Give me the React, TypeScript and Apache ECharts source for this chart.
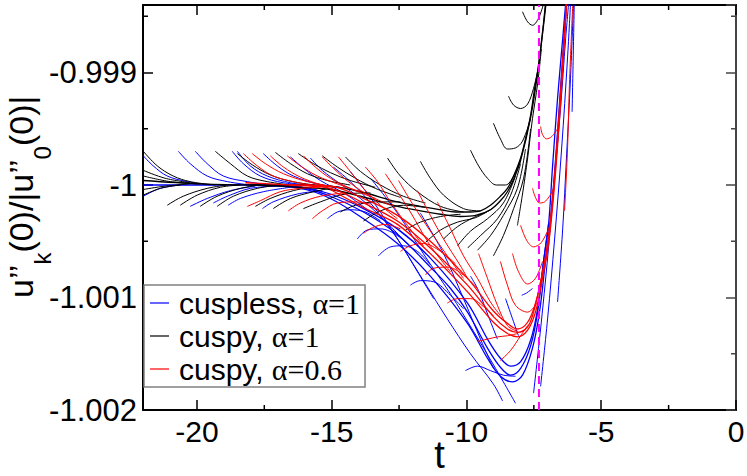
import React, { useEffect, useRef } from 'react';
import * as echarts from 'echarts';

// ---------- axes / annotations ----------
const X_MIN = -22;
const X_MAX = 0;
const Y_MIN = -1.002;
const Y_MAX = -0.9984;
const Y_INTERVAL = 0.001;
const xMinorTicks = [-17.5, -12.5, -7.5, -2.5];
const yMinorTicks = [-1.0015, -1.0005, -0.9995, -0.9985];
const legendNames = ['cuspless, α=1', 'cuspy, α=1', 'cuspy, α=0.6'];
const tStar = -7.31;
const dashedLine = [[tStar, Y_MIN], [tStar, Y_MAX]];

// ---------- cuspless, alpha = 1 (blue) ----------
const blueMain1 = [[-21.99,-1.0],[-19.88,-1.0],[-18.02,-1.0],[-16.16,-1.00002],[-15.05,-1.0001],[-13.82,-1.00024],[-12.56,-1.00044],[-11.34,-1.00073],[-10.59,-1.00092],[-9.96,-1.00113],[-9.22,-1.00145],[-8.74,-1.00162],[-8.36,-1.00169],[-7.99,-1.00163],[-7.62,-1.00143],[-7.36,-1.00113],[-7.14,-1.00068],[-6.95,-1.00034],[-6.81,-0.99985],[-6.62,-0.99923],[-6.43,-0.9987],[-6.32,-0.99839]];
const blueMain2 = [[-18.02,-1.0],[-16.16,-1.00003],[-15.05,-1.00012],[-13.82,-1.0003],[-12.56,-1.00052],[-11.34,-1.00081],[-9.96,-1.00123],[-9.22,-1.00154],[-8.74,-1.0017],[-8.29,-1.00175],[-7.92,-1.00169],[-7.55,-1.00145],[-7.29,-1.00113],[-7.07,-1.00068],[-6.88,-1.0003],[-6.69,-0.99976],[-6.51,-0.99914],[-6.29,-0.99839]];
const blueMain3 = [[-18.02,-1.0],[-16.16,-1.00002],[-15.05,-1.00008],[-13.82,-1.00021],[-12.56,-1.00039],[-11.34,-1.00065],[-9.96,-1.00105],[-9.22,-1.00137],[-8.74,-1.00154],[-8.36,-1.00161],[-7.99,-1.00157],[-7.62,-1.00138],[-7.36,-1.0011],[-7.14,-1.00068],[-6.95,-1.00034]];
const blueC6 = [[-21.99,-0.99974],[-21.62,-0.99983],[-21.1,-0.99992],[-20.36,-0.99997],[-19.5,-1.0]];
const blueC1 = [[-20.69,-0.9997],[-20.25,-0.99981],[-19.62,-0.99992],[-18.87,-0.99997],[-18.02,-1.0]];
const blueC2 = [[-20.06,-0.9997],[-19.62,-0.99981],[-19.02,-0.99992],[-18.13,-0.99997],[-17.28,-1.0]];
const blueC3 = [[-18.69,-0.9997],[-18.28,-0.99981],[-17.65,-0.99992],[-16.79,-0.99998],[-15.79,-1.0]];
const blueC4 = [[-18.5,-0.9997],[-18.02,-0.99983],[-17.39,-0.99992],[-16.53,-0.99998],[-15.61,-1.00001]];
const blueC5 = [[-17.54,-0.99972],[-17.02,-0.99983],[-16.42,-0.99992],[-15.53,-0.99999],[-14.68,-1.00002]];
const blueC5b = [[-16.53,-0.99975],[-16.05,-0.99985],[-15.42,-0.99996],[-14.49,-1.00008],[-13.56,-1.00024]];
const blueC5c = [[-15.79,-0.99976],[-15.35,-0.99987],[-14.68,-0.99999],[-13.93,-1.00012],[-13.01,-1.00032],[-12.26,-1.00051]];
const blueD1 = [[-14.94,-0.99984],[-14.31,-0.99997],[-13.56,-1.00016],[-12.56,-1.00048],[-11.82,-1.00077],[-11.22,-1.00101]];
const blueD2 = [[-14.31,-0.99988],[-13.45,-1.00015],[-12.45,-1.00052],[-11.52,-1.00088],[-10.71,-1.00119],[-9.85,-1.0015],[-9.0,-1.00177],[-8.66,-1.00192]];
const blueD3 = [[-13.56,-0.99994],[-12.56,-1.00025],[-11.6,-1.00061],[-10.59,-1.00097],[-9.74,-1.0013],[-8.92,-1.00163],[-8.18,-1.00194]];
const blueD4 = [[-11.71,-1.00025],[-10.85,-1.00061],[-10.11,-1.00101],[-9.48,-1.00137],[-9.0,-1.00163]];
const blueD5 = [[-8.55,-1.00101],[-8.29,-1.00119],[-8.07,-1.00134]];
const blueD6 = [[-9.85,-1.00081],[-9.55,-1.00094],[-9.18,-1.00117],[-8.85,-1.00137]];
const blueE1 = [[-21.99,-1.0001],[-21.36,-1.00003],[-20.62,-1.0]];
const blueE2 = [[-20.25,-1.00019],[-19.62,-1.00012],[-18.76,-1.00005],[-17.83,-1.00001]];
const blueE3 = [[-19.39,-1.00016],[-18.87,-1.0001],[-18.02,-1.00003],[-17.09,-1.00001]];
const blueE4 = [[-18.84,-1.00018],[-18.39,-1.00012],[-17.54,-1.00006],[-16.53,-1.00002]];
const blueE5 = [[-17.57,-1.00021],[-17.17,-1.00015],[-16.27,-1.00008],[-15.35,-1.00005]];
const blueE6 = [[-15.16,-1.0003],[-14.79,-1.00024],[-14.31,-1.00022],[-13.75,-1.00024],[-13.19,-1.00032]];
const blueE7 = [[-14.05,-1.00048],[-13.68,-1.0004],[-13.19,-1.00039],[-12.56,-1.00045],[-12.08,-1.00055]];
const blueE8 = [[-13.27,-1.00063],[-12.82,-1.00055],[-12.34,-1.00054],[-11.82,-1.00059],[-11.34,-1.00071]];
const blueE9 = [[-12.08,-1.00089],[-11.71,-1.00085],[-11.22,-1.00086],[-10.59,-1.00098],[-10.11,-1.0011]];
const blueE10 = [[-10.04,-1.00165],[-9.59,-1.00161],[-9.11,-1.00165],[-8.63,-1.00169],[-8.18,-1.0017]];
const blueF1 = [[-7.51,-1.00185],[-7.25,-1.00128],[-6.99,-1.00065],[-6.77,-1.00003],[-6.51,-0.99932],[-6.32,-0.9987],[-6.21,-0.99839]];
const blueF2 = [[-7.25,-1.00179],[-6.99,-1.00119],[-6.73,-1.00048],[-6.47,-0.99968],[-6.25,-0.99887],[-6.14,-0.99839]];
const blueF3 = [[-6.62,-1.00104],[-6.43,-1.00039],[-6.29,-0.99976],[-6.14,-0.99905],[-6.03,-0.99839]];
const blueF4 = [[-6.08,-0.99935],[-6.04,-0.99887],[-6.0,-0.99839]];
const blueF5 = [[-7.95,-1.00098],[-7.77,-1.00096],[-7.55,-1.00092]];

// ---------- cuspy, alpha = 1 (black) ----------
const blackMain1 = [[-22,-0.99996],[-19.88,-0.99999],[-18.02,-1.0],[-16.16,-1.0],[-15.05,-1.00001],[-13.93,-1.00006],[-12.56,-1.00015],[-11.71,-1.00019],[-10.96,-1.00022],[-10.41,-1.00024],[-9.85,-1.00024],[-9.48,-1.00023],[-9.11,-1.00018],[-8.74,-1.0001],[-8.48,-1.00003],[-8.25,-0.99992],[-7.99,-0.99976],[-7.81,-0.99959],[-7.62,-0.99938],[-7.47,-0.99914],[-7.36,-0.99899],[-7.25,-0.99879],[-7.14,-0.99856],[-7.07,-0.99839]];
const blackMain2 = [[-18.02,-1.0],[-16.16,-1.00002],[-15.05,-1.00004],[-13.93,-1.0001],[-12.56,-1.00019],[-11.71,-1.00023],[-10.96,-1.00026],[-10.22,-1.00028],[-9.66,-1.00027],[-9.11,-1.00022],[-8.74,-1.00014],[-8.48,-1.00006],[-8.25,-0.99995],[-7.99,-0.99978],[-7.62,-0.9994],[-7.36,-0.99901],[-7.14,-0.99858],[-7.05,-0.99839]];
const blackA0a = [[-21.99,-0.99987],[-21.18,-0.99994],[-20.25,-0.99998]];
const blackA0b = [[-21.99,-0.99992],[-20.99,-0.99997],[-19.88,-0.99999]];
const blackA1 = [[-21.99,-0.9997],[-21.47,-0.99983],[-20.88,-0.99992],[-20.25,-0.99997],[-19.32,-1.0]];
const blackA2 = [[-19.32,-0.9997],[-18.76,-0.99981],[-18.13,-0.99992],[-17.39,-0.99997],[-16.53,-1.0]];
const blackA2b = [[-18.5,-0.99972],[-17.95,-0.99982],[-17.28,-0.99991],[-16.46,-0.99997],[-15.61,-1.0]];
const blackA3 = [[-17.09,-0.99971],[-16.53,-0.99981],[-15.9,-0.9999],[-15.16,-0.99996],[-14.31,-1.0]];
const blackA4 = [[-16.24,-0.99972],[-15.68,-0.99981],[-15.05,-0.99989],[-14.31,-0.99996],[-13.38,-1.00002]];
const blackA4b = [[-15.35,-0.99974],[-14.79,-0.99984],[-14.12,-0.99994],[-13.38,-1.00003],[-12.45,-1.00011]];
const blackA5 = [[-14.49,-0.99975],[-13.93,-0.99988],[-13.19,-1.0],[-12.34,-1.0001],[-11.52,-1.00016]];
const blackA6 = [[-12.93,-0.99976],[-12.45,-0.99992],[-11.82,-1.00006],[-10.96,-1.00019],[-10.11,-1.00024]];
const blackA7 = [[-11.71,-0.99979],[-11.34,-0.99994],[-10.85,-1.00009],[-10.11,-1.00021],[-9.48,-1.00023]];
const blackA8 = [[-9.85,-0.99969],[-9.55,-0.99983],[-9.22,-0.99994],[-8.89,-1.0],[-8.55,-1.0],[-8.25,-0.99992],[-7.99,-0.99978]];
const blackA9 = [[-9.0,-0.99945],[-8.74,-0.99959],[-8.48,-0.99968],[-8.18,-0.99967],[-7.92,-0.99961],[-7.62,-0.99941]];
const blackA10 = [[-8.44,-0.99921],[-8.25,-0.99929],[-7.99,-0.99932],[-7.73,-0.99928],[-7.51,-0.99914],[-7.36,-0.99899]];
const blackA11 = [[-7.92,-0.99846],[-7.73,-0.99855],[-7.55,-0.99858],[-7.33,-0.99852],[-7.14,-0.99839]];
const blackB7 = [[-21.99,-1.00009],[-21.36,-1.00003],[-20.62,-1.0]];
const blackB7b = [[-21.99,-1.00004],[-21.18,-1.00001],[-20.25,-0.99999]];
const blackB1 = [[-21.1,-1.00018],[-20.51,-1.0001],[-19.62,-1.00003],[-18.87,-1.0]];
const blackB2 = [[-20.62,-1.00018],[-19.99,-1.00009],[-19.13,-1.00002],[-18.39,-1.0]];
const blackB3 = [[-19.88,-1.00019],[-19.25,-1.0001],[-18.39,-1.00003],[-17.65,-1.0]];
const blackB4 = [[-19.25,-1.00019],[-18.65,-1.0001],[-17.76,-1.00003],[-16.91,-1.0]];
const blackB5 = [[-17.83,-1.00019],[-17.28,-1.00012],[-16.42,-1.00005],[-15.53,-1.00001]];
const blackB5b = [[-16.05,-1.00021],[-15.42,-1.00015],[-14.49,-1.00008],[-13.56,-1.00007]];
const blackB6 = [[-17.17,-1.00021],[-16.53,-1.00012],[-15.68,-1.00006],[-14.86,-1.00002]];
const blackB8 = [[-14.68,-1.00024],[-14.12,-1.00018],[-13.38,-1.00015],[-12.45,-1.00015]];
const blackB9 = [[-13.82,-1.00032],[-13.19,-1.00023],[-12.34,-1.00018],[-11.52,-1.0002]];
const blackB9b = [[-12.26,-1.0004],[-11.71,-1.00033],[-10.96,-1.00028],[-10.22,-1.00026]];
const blackB9c = [[-11.52,-1.00051],[-10.96,-1.0004],[-10.33,-1.00033],[-9.66,-1.00029],[-9.11,-1.00022]];
const blackB10 = [[-10.85,-1.00048],[-10.33,-1.00037],[-9.74,-1.00029],[-9.11,-1.00022],[-8.63,-1.00011]];
const blackB11 = [[-10.33,-1.00054],[-9.85,-1.00041],[-9.22,-1.0003],[-8.63,-1.00016],[-8.18,-0.99992]];
const blackB12 = [[-9.96,-1.00056],[-9.48,-1.00045],[-8.85,-1.0003],[-8.36,-1.00009],[-7.99,-0.99981]];
const blackB13 = [[-9.59,-1.00058],[-9.11,-1.00045],[-8.63,-1.00027],[-8.11,-1.00003],[-7.81,-0.99968]];
const blackB14 = [[-9.0,-1.00063],[-8.63,-1.00045],[-8.25,-1.00021],[-7.88,-0.99994],[-7.62,-0.9995]];
const blackB15 = [[-8.11,-1.00036],[-7.92,-1.00008],[-7.73,-0.99976],[-7.55,-0.99941],[-7.36,-0.9991],[-7.22,-0.99879]];

// ---------- cuspy, alpha = 0.6 (red) ----------
const redMain1 = [[-18.2,-0.99998],[-16.53,-1.0],[-15.05,-1.00003],[-13.82,-1.00016],[-12.56,-1.00032],[-11.34,-1.00056],[-9.96,-1.00089],[-9.0,-1.00117],[-8.48,-1.00128],[-8.11,-1.00131],[-7.73,-1.00126],[-7.51,-1.00113],[-7.25,-1.00086],[-6.99,-1.00052],[-6.77,-1.00003],[-6.55,-0.99932],[-6.29,-0.99839]];
const redMain2 = [[-16.53,-1.0],[-15.05,-1.00001],[-13.82,-1.00012],[-12.56,-1.00027],[-11.34,-1.0005],[-9.96,-1.00083],[-9.0,-1.00112],[-8.48,-1.00123],[-8.11,-1.00128],[-7.73,-1.00122],[-7.44,-1.00105],[-7.18,-1.00079],[-6.95,-1.00048],[-6.73,-0.99994],[-6.51,-0.99923],[-6.29,-0.99839]];
const redMain3 = [[-15.05,-1.00004],[-13.82,-1.0002],[-12.56,-1.00035],[-11.34,-1.00061],[-9.96,-1.00095],[-9.0,-1.00122],[-8.48,-1.00132],[-8.11,-1.00135],[-7.73,-1.00129],[-7.44,-1.00113],[-7.18,-1.00083],[-6.95,-1.00052],[-6.73,-0.99999],[-6.51,-0.99927],[-6.29,-0.99839]];
const redG1 = [[-18.28,-0.99972],[-17.76,-0.99983],[-17.17,-0.99992],[-16.42,-0.99997],[-15.53,-1.00001]];
const redG2 = [[-17.95,-0.99972],[-17.46,-0.99981],[-16.79,-0.9999],[-15.9,-0.99997],[-15.05,-1.00001]];
const redG2b = [[-17.28,-0.99974],[-16.79,-0.99984],[-16.16,-0.99993],[-15.35,-1.0],[-14.49,-1.00003]];
const redG3 = [[-16.65,-0.99974],[-16.16,-0.99983],[-15.53,-0.99992],[-14.79,-0.99999],[-13.93,-1.00006]];
const redG4 = [[-16.05,-0.99974],[-15.61,-0.99984],[-15.05,-0.99994],[-14.31,-1.00003],[-13.38,-1.00012]];
const redG5 = [[-15.35,-0.99975],[-14.94,-0.99985],[-14.38,-0.99997],[-13.64,-1.00009],[-12.82,-1.00018]];
const redG6 = [[-14.75,-0.99975],[-14.31,-0.99988],[-13.82,-1.00003],[-13.19,-1.00018],[-12.56,-1.0003]];
const redG7 = [[-13.75,-0.99984],[-13.3,-0.99997],[-12.82,-1.00015],[-12.19,-1.00036],[-11.6,-1.00054]];
const redG8 = [[-13.01,-0.9999],[-12.56,-1.00006],[-12.08,-1.00024],[-11.34,-1.00054],[-10.59,-1.00077]];
const redG9 = [[-12.52,-0.99996],[-11.97,-1.00018],[-11.34,-1.00041],[-10.71,-1.00063],[-10.11,-1.00083]];
const redG10 = [[-11.82,-1.00005],[-11.34,-1.00027],[-10.85,-1.00048],[-10.22,-1.00072],[-9.96,-1.00083]];
const redG11 = [[-11.08,-1.00015],[-10.59,-1.00039],[-10.11,-1.00063],[-9.59,-1.00083],[-9.11,-1.00104],[-8.74,-1.00116]];
const redG13 = [[-9.55,-1.00061],[-9.22,-1.00083],[-8.85,-1.00107],[-8.48,-1.00125],[-8.11,-1.0013]];
const redG14 = [[-8.74,-1.00068],[-8.48,-1.00089],[-8.18,-1.00107],[-7.73,-1.00113],[-7.36,-1.00104]];
const redG15 = [[-8.29,-1.00061],[-8.07,-1.00077],[-7.73,-1.00088],[-7.44,-1.00083],[-7.18,-1.00068]];
const redG16 = [[-7.55,-1.00003],[-7.44,-1.00011],[-7.29,-1.00016],[-7.1,-1.00015],[-6.92,-1.0001],[-6.77,-1.00003]];
const redG17 = [[-7.25,-0.99948],[-7.18,-0.99955],[-7.03,-0.99959],[-6.84,-0.99957],[-6.62,-0.9995]];
const redG18 = [[-6.36,-1.00023],[-6.25,-0.99968],[-6.18,-0.99911],[-6.06,-0.99841]];
const redG19 = [[-7.99,-1.00036],[-7.77,-1.00049],[-7.51,-1.00055],[-7.22,-1.00051],[-6.92,-1.00037]];
const redH1 = [[-18.13,-1.00019],[-17.65,-1.00014],[-16.91,-1.00006],[-16.16,-1.00003],[-15.42,-1.00002]];
const redH2 = [[-16.61,-1.00023],[-16.16,-1.00016],[-15.42,-1.0001],[-14.49,-1.00007]];
const redH3 = [[-15.72,-1.0003],[-15.35,-1.00023],[-14.79,-1.00016],[-14.12,-1.00015],[-13.56,-1.00017]];
const redH3b = [[-13.82,-1.00043],[-13.49,-1.00038],[-13.01,-1.00035],[-12.45,-1.00039]];
const redH4 = [[-12.45,-1.00059],[-12.08,-1.00054],[-11.6,-1.00052],[-10.96,-1.00059],[-10.41,-1.0007]];
const redH5 = [[-11.52,-1.0008],[-11.22,-1.00074],[-10.71,-1.00073],[-10.11,-1.0008],[-9.59,-1.00092]];
const redH6 = [[-10.71,-1.00105],[-10.33,-1.00101],[-9.85,-1.00101],[-9.37,-1.00108],[-9.0,-1.00116]];
const redH7 = [[-9.59,-1.00139],[-9.22,-1.00137],[-8.85,-1.00135],[-8.48,-1.00134],[-8.11,-1.00132]];
const redH8 = [[-8.74,-1.00156],[-8.36,-1.00147],[-7.99,-1.00134],[-7.73,-1.00125]];

const blueMains = [blueMain1, blueMain2, blueMain3];
const blueArcs = [blueC6, blueC1, blueC2, blueC3, blueC4, blueC5, blueC5b, blueC5c, blueD1, blueD2, blueD3, blueD4, blueD5, blueD6,
  blueE1, blueE2, blueE3, blueE4, blueE5, blueE6, blueE7, blueE8, blueE9, blueE10, blueF1, blueF2, blueF3, blueF4, blueF5];
const blackMains = [blackMain1, blackMain2];
const blackArcs = [blackA0a, blackA0b, blackA1, blackA2, blackA2b, blackA3, blackA4, blackA4b, blackA5, blackA6, blackA7, blackA8, blackA9, blackA10, blackA11,
  blackB7, blackB7b, blackB1, blackB2, blackB3, blackB4, blackB5, blackB5b, blackB6, blackB8, blackB9, blackB9b, blackB9c, blackB10, blackB11, blackB12, blackB13, blackB14, blackB15];
const redMains = [redMain1, redMain2, redMain3];
const redArcs = [redG1, redG2, redG2b, redG3, redG4, redG5, redG6, redG7, redG8, redG9, redG10, redG11, redG13, redG14, redG15, redG16, redG17, redG18, redG19,
  redH1, redH2, redH3, redH3b, redH4, redH5, redH6, redH7, redH8];

const SANS = 'Liberation Sans, Arial, Helvetica, sans-serif';
const SERIF = 'Liberation Serif, Times New Roman, serif';

function family(mains: number[][][], arcs: number[][][], name: string, color: string, z: number) {
  const mk = (data: number[][], width: number) => ({
    type: 'line',
    name,
    data,
    showSymbol: false,
    symbol: 'none',
    smooth: 0.35,
    lineStyle: { color, width },
    itemStyle: { color },
    silent: true,
    z,
  });
  return [...mains.map((d) => mk(d, 1.3)), ...arcs.map((d) => mk(d, 1))];
}

export default function App() {
  const ref = useRef<HTMLDivElement>(null);
  useEffect(() => {
    if (!ref.current) return;
    const chart = echarts.init(ref.current, null, { renderer: 'svg' });
    const axisLine = { show: true, onZero: false, lineStyle: { color: '#000', width: 2 } };
    const tick = { show: true, inside: true, length: 10, lineStyle: { color: '#000', width: 1.5 } };
    const xLabel = (v: number) => (Math.abs(v % 5) < 1e-9 ? String(v) : '');
    const yLabel = (v: number) => {
      const k = Math.round(v * 1000);
      return Math.abs(v * 1000 - k) < 1e-6 ? String(k / 1000) : '';
    };
    const option: any = {
      animation: false,
      backgroundColor: '#fff',
      grid: { left: 143, right: 11, top: 5, bottom: 66, containLabel: false, outerBoundsMode: 'none' },
      xAxis: [
        {
          type: 'value', min: X_MIN, max: X_MAX, splitNumber: 5, position: 'bottom',
          axisLine, axisTick: tick, splitLine: { show: false },
          axisLabel: { fontSize: 30, color: '#000', fontFamily: SANS, margin: 6, formatter: xLabel },
          name: 't', nameLocation: 'middle', nameGap: 26, nameMoveOverlap: false,
          nameTextStyle: { fontSize: 38, color: '#000', fontFamily: SANS },
        },
        {
          type: 'value', min: X_MIN, max: X_MAX, splitNumber: 5, position: 'top',
          axisLine, axisTick: tick, splitLine: { show: false }, axisLabel: { show: false },
        },
      ],
      yAxis: [
        {
          type: 'value', min: Y_MIN, max: Y_MAX, interval: Y_INTERVAL, position: 'left',
          axisLine, axisTick: tick, splitLine: { show: false },
          axisLabel: { fontSize: 31, color: '#000', fontFamily: SANS, margin: 6, formatter: yLabel },
        },
        {
          type: 'value', min: Y_MIN, max: Y_MAX, interval: Y_INTERVAL, position: 'right',
          axisLine: { show: true, onZero: false, lineStyle: { color: '#444', width: 2 } },
          axisTick: { show: true, inside: true, length: 10, lineStyle: { color: '#444', width: 1.5 } },
          splitLine: { show: false }, axisLabel: { show: false },
        },
      ],
      legend: {
        data: legendNames,
        orient: 'vertical',
        left: 144,
        top: 285,
        icon: 'rect',
        itemWidth: 19,
        itemHeight: 1.2,
        itemGap: 3,
        padding: [3, 5, 3, 6],
        backgroundColor: '#fff',
        borderColor: '#808080',
        borderWidth: 1.5,
        borderRadius: 0,
        selectedMode: false,
        z: 20,
        formatter: (name: string) => {
          const i = name.indexOf('α');
          return `{s|${name.slice(0, i)}}{g|${name.slice(i)}}`;
        },
        textStyle: {
          fontSize: 30, color: '#000', padding: [0, 0, 0, 5],
          rich: {
            s: { fontSize: 30, fontFamily: SANS, color: '#000' },
            g: { fontSize: 30, fontFamily: SERIF, color: '#000' },
          },
        },
      },
      graphic: [
        {
          type: 'text',
          x: 33,
          y: 298,
          rotation: Math.PI / 2,
          silent: true,
          style: {
            x: 0,
            y: -29,
            align: 'left',
            verticalAlign: 'top',
            text: '{m|u’’}{k|k}{m|(0)/|u’’}{k|0}{m|(0)|}',
            rich: {
              m: { fontSize: 34, lineHeight: 34, fontFamily: SANS, fill: '#000', verticalAlign: 'top' },
              k: { fontSize: 24, lineHeight: 24, fontFamily: SANS, fill: '#000', verticalAlign: 'top', padding: [26, 0, 0, 0] },
            },
          },
        },
      ],
      series: [
        ...family(blueMains, blueArcs, legendNames[0], '#0000ff', 2),
        ...family(blackMains, blackArcs, legendNames[1], '#000000', 3),
        ...family(redMains, redArcs, legendNames[2], '#ff0000', 4),
        {
          type: 'line', name: 'tstar', data: dashedLine, showSymbol: false, symbol: 'none', silent: true, z: 6,
          lineStyle: { color: '#ff00ff', width: 2, type: [8, 5] },
        },
        {
          type: 'custom', name: 'minorTicks', silent: true, z: 10, clip: false,
          data: [...xMinorTicks.map((v) => [v, 0]), ...yMinorTicks.map((v) => [v, 1])],
          renderItem: (params: any, api: any) => {
            const v = api.value(0);
            const kind = api.value(1);
            const cs = params.coordSys;
            const style = { stroke: '#000', lineWidth: 1.5 };
            if (kind === 0) {
              const x = api.coord([v, Y_MIN])[0];
              return {
                type: 'group',
                children: [
                  { type: 'line', shape: { x1: x, y1: cs.y + cs.height, x2: x, y2: cs.y + cs.height - 5 }, style },
                  { type: 'line', shape: { x1: x, y1: cs.y, x2: x, y2: cs.y + 5 }, style },
                ],
              };
            }
            const y = api.coord([X_MIN, v])[1];
            return {
              type: 'group',
              children: [
                { type: 'line', shape: { x1: cs.x, y1: y, x2: cs.x + 5, y2: y }, style },
                { type: 'line', shape: { x1: cs.x + cs.width, y1: y, x2: cs.x + cs.width - 5, y2: y }, style: { stroke: '#444', lineWidth: 1.5 } },
              ],
            };
          },
        },
      ],
    };
    chart.setOption(option);
    return () => chart.dispose();
  }, []);
  return (
    <div
      ref={ref}
      style={{ position: 'absolute', left: 0, top: 0, width: 747, height: 476, background: '#fff' }}
    />
  );
}
